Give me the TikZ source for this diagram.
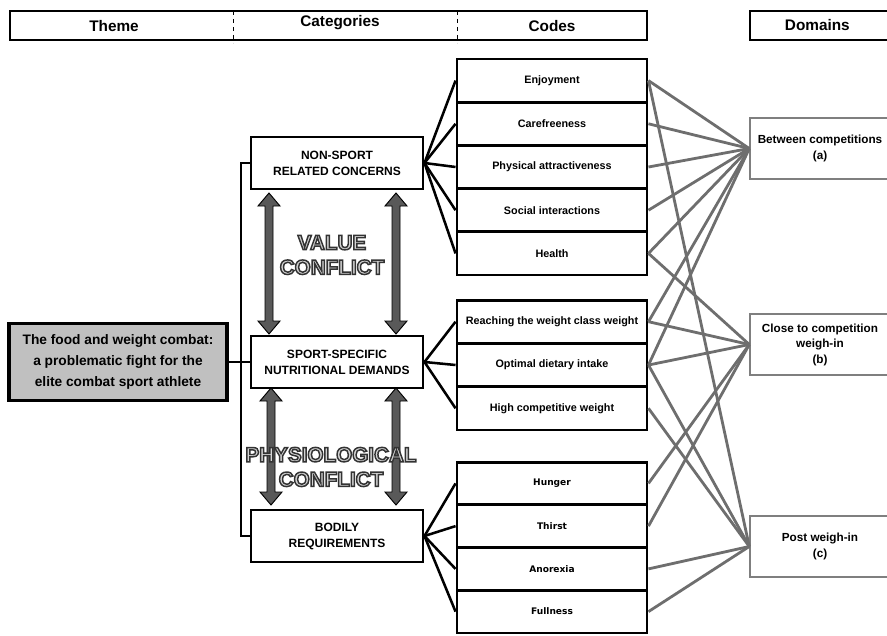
\documentclass[tikz,border=0pt]{standalone}
\usepackage{fontspec}
\setmainfont{Liberation Sans}
\newfontfamily\dejavu{DejaVu Sans}
\usetikzlibrary{calc}
\definecolor{conn}{HTML}{6E6E6E}
\definecolor{arrfill}{HTML}{595959}
\definecolor{themefill}{HTML}{C0C0C0}
\definecolor{dombd}{HTML}{7F7F7F}
\definecolor{ilc}{HTML}{D4D4D4}
\newcommand\otx[1]{{\color{ilc}\special{pdf:literal direct 2 Tr 1.1 w 0.2 0.2 0.2 RG}#1\special{pdf:literal direct 0 Tr}}}
\newcommand\dblarr[3]{%
  \draw[arrowstyle] (#1,#2) -- ++(11,13) -- ++(-7,0) -- (#1+4,#3-13) -- ++(7,0)
    -- (#1,#3) -- ++(-11,-13) -- ++(7,0) -- (#1-4,#2+13) -- ++(-7,0) -- cycle;}
\tikzset{
  codebox/.style={draw, line width=2.2pt, fill=white, minimum width=142.5pt,
    inner sep=0pt, align=center, font=\bfseries\fontsize{8.1}{9.7}\selectfont},
  catbox/.style={draw, line width=2.2pt, fill=white, minimum width=129pt,
    minimum height=39pt, inner sep=0pt, align=center,
    font=\bfseries\fontsize{9}{12}\selectfont},
  themebox/.style={draw, line width=2.6pt, fill=themefill, minimum width=163.5pt,
    minimum height=57.75pt, inner sep=0pt, align=center,
    font=\bfseries\fontsize{10.3}{15.5}\selectfont},
  dombox/.style={draw=dombd, line width=1.1pt, fill=white, minimum width=105pt,
    minimum height=45.75pt, inner sep=0pt, align=center,
    font=\bfseries\fontsize{8.8}{11.6}\selectfont},
  hdrbox/.style={draw, line width=1.8pt, minimum height=21.75pt, inner sep=0pt},
  hdrtxt/.style={font=\bfseries\fontsize{11.5}{13}\selectfont, inner sep=0pt},
  blk/.style={line width=1.9pt, black},
  gry/.style={line width=2.1pt, conn},
  arrowstyle/.style={fill=arrfill, draw=black, line width=0.7pt, line join=miter},
  conflict/.style={align=center, inner sep=0pt, font=\bfseries\fontsize{15.5}{18.5}\selectfont}
}
\begin{document}
\begin{tikzpicture}[x=0.75pt, y=-0.75pt]
\useasboundingbox (0,0) rectangle (887,635);
% header
\node[hdrbox, minimum width=477.75pt] (hdr) at (328.5,25.5) {};
\draw[dashed, line width=0.6pt] (233,11) -- (233,43);
\draw[dashed, line width=0.6pt] (457,11) -- (457,43);
\node[hdrtxt] (hth) at (114,26) {Theme};
\node[hdrtxt] (hca) at (340,23) {Categories};
\node[hdrtxt] (hco) at (552,26) {Codes};
\node[hdrbox, minimum width=105pt, font=\bfseries\fontsize{11.5}{13}\selectfont] (hdo) at (820,25.5) {\hspace*{-4pt}Domains};
% domains
\node[dombox] (da) at (820,148.5) {Between competitions\\(a)};
\node[dombox] (db) at (820,344.5) {Close to competition\\weigh-in\\(b)};
\node[dombox] (dc) at (820,546.5) {Post weigh-in\\(c)};
% codes group 1
\node[codebox, minimum height=32.4pt] (e1) at (552,80.6) {Enjoyment};
\node[codebox, minimum height=32.4pt] (e2) at (552,123.8) {Carefreeness};
\node[codebox, minimum height=32.4pt] (e3) at (552,167) {Physical attractiveness};
\node[codebox, minimum height=32.4pt] (e4) at (552,210.2) {Social interactions};
\node[codebox, minimum height=32.4pt] (e5) at (552,253.4) {Health};
% codes group 2
\node[codebox, minimum height=32.5pt] (s1) at (552,321.7) {Reaching the weight class weight};
\node[codebox, minimum height=32.5pt] (s2) at (552,365) {Optimal dietary intake};
\node[codebox, minimum height=32.5pt] (s3) at (552,408.3) {High competitive weight};
% codes group 3
\node[codebox, minimum height=32.06pt, font=\dejavu\bfseries\fontsize{6.8}{8}\selectfont] (b1) at (552,483.4) {Hunger};
\node[codebox, minimum height=32.06pt, font=\dejavu\bfseries\fontsize{6.8}{8}\selectfont] (b2) at (552,526.1) {Thirst};
\node[codebox, minimum height=32.06pt, font=\dejavu\bfseries\fontsize{6.8}{8}\selectfont] (b3) at (552,568.9) {Anorexia};
\node[codebox, minimum height=32.06pt, font=\dejavu\bfseries\fontsize{6.8}{8}\selectfont] (b4) at (552,611.6) {Fullness};
% gray connectors
\foreach \c in {e1,e2,e3,e4,e5,s1,s2} \draw[gry] (\c.east) -- (da.west);
\foreach \c in {e5,s1,s2,b1,b2} \draw[gry] (\c.east) -- (db.west);
\foreach \c in {e1,s2,s3,b3,b4} \draw[gry] (\c.east) -- (dc.west);
% categories
\node[catbox] (ns) at (337,163) {NON-SPORT\\RELATED CONCERNS};
\node[catbox] (ss) at (337,362) {SPORT-SPECIFIC\\NUTRITIONAL DEMANDS};
\node[catbox] (bo) at (337,536) {BODILY\\REQUIREMENTS};
% theme
\node[themebox] (th) at (118,362) {The food and weight combat:\\a problematic fight for the\\elite combat sport athlete};
% bracket
\coordinate (bk) at (241,0);
\draw[blk] (ns.west) -- (ns.west -| bk) -- (bo.west -| bk) -- (bo.west);
\draw[blk] (th.east) -- (ss.west);
% category to code connectors
\foreach \c in {e1,e2,e3,e4,e5} \draw[blk] (ns.east) -- (\c.west);
\foreach \c in {s1,s2,s3} \draw[blk] (ss.east) -- (\c.west);
\foreach \c in {b1,b2,b3,b4} \draw[blk] (bo.east) -- (\c.west);
% conflict arrows
\dblarr{269}{193}{334}
\dblarr{396}{193}{334}
\dblarr{271}{388}{505}
\dblarr{396}{388}{505}
\node[conflict] (vc) at (332,255) {\otx{VALUE}\\\otx{CONFLICT}};
\node[conflict] (pc) at (331,467) {\otx{PHYSIOLOGICAL}\\\otx{CONFLICT}};
\end{tikzpicture}
\end{document}
